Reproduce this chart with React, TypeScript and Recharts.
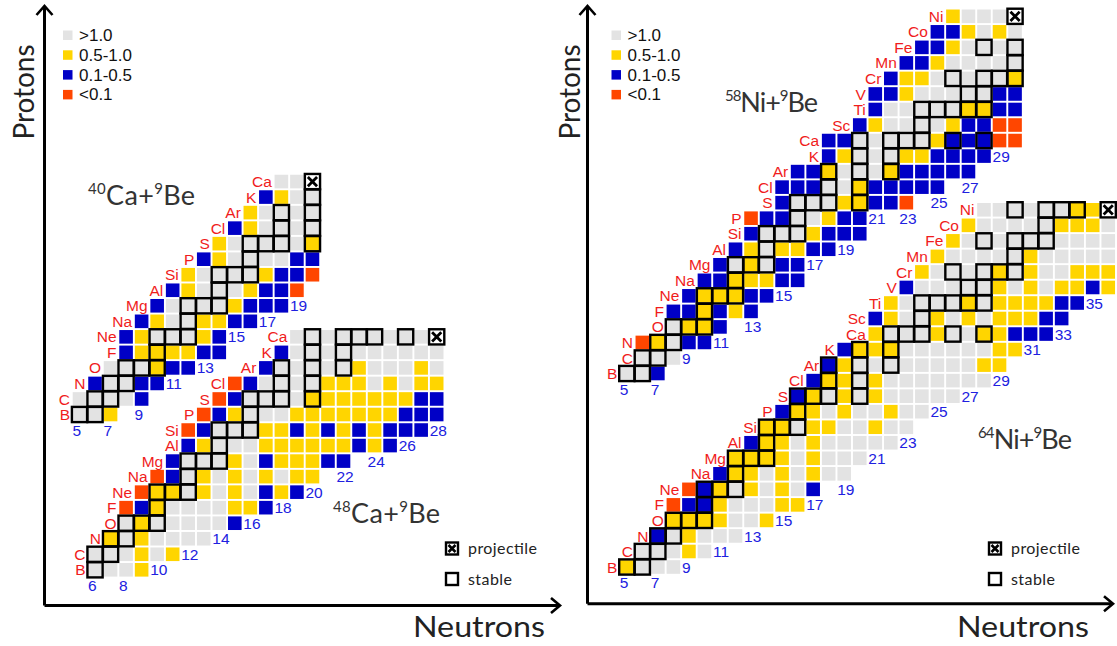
import React from "react";
import { ScatterChart, Scatter, XAxis, YAxis } from "recharts";

type Row = [number, number, string]; // [Z, first N, one colour code per cell]

// g: >1.0, y: 0.5-1.0, b: 0.1-0.5, r: <0.1, x: projectile
const colours: Record<string, string> = {
  g: "#e3e3e3",
  y: "#ffd500",
  b: "#0000c6",
  r: "#ff4600",
  x: "#ffffff",
};

const legendItems = [
  { code: "g", label: ">1.0" },
  { code: "y", label: "0.5-1.0" },
  { code: "b", label: "0.1-0.5" },
  { code: "r", label: "<0.1" },
];

const elementSymbols = [
  "", "H", "He", "Li", "Be", "B", "C", "N", "O", "F", "Ne", "Na", "Mg", "Al", "Si",
  "P", "S", "Cl", "Ar", "K", "Ca", "Sc", "Ti", "V", "Cr", "Mn", "Fe", "Co", "Ni",
];

// [N, Z] of the stable nuclides (thick frame)
const stableNuclides: [number, number][] = [
  [5, 5], [6, 5], [6, 6], [7, 6], [7, 7], [8, 7], [8, 8], [9, 8], [10, 8], [10, 9],
  [10, 10], [11, 10], [12, 10], [12, 11], [12, 12], [13, 12], [14, 12], [14, 13],
  [14, 14], [15, 14], [16, 14], [16, 15], [16, 16], [17, 16], [18, 16], [20, 16],
  [18, 17], [20, 17], [18, 18], [20, 18], [22, 18], [20, 19], [22, 19],
  [20, 20], [22, 20], [23, 20], [24, 20], [26, 20], [28, 20], [24, 21],
  [24, 22], [25, 22], [26, 22], [27, 22], [28, 22], [27, 23], [28, 23],
  [26, 24], [28, 24], [29, 24], [30, 24], [30, 25], [28, 26], [30, 26], [31, 26], [32, 26],
  [32, 27], [30, 28], [32, 28], [33, 28], [34, 28], [36, 28],
];

const ca40Rows: Row[] = [
  [20, 18, "ggx"],
  [19, 17, "bygg"],
  [18, 16, "ygggg"],
  [17, 15, "bygggg"],
  [16, 14, "ygggggy"],
  [15, 13, "byggggbb"],
  [14, 12, "yggggybbr"],
  [13, 11, "bygggybbr"],
  [12, 10, "bggggybbb"],
  [11, 9, "byggyybb"],
  [10, 8, "bygggyb"],
  [9, 8, "byyyybb"],
  [8, 7, "gggybb"],
  [7, 6, "bggbb"],
  [6, 5, "ggggb"],
  [5, 5, "ggy"],
];
const ca40NLabels = [5, 7, 9, 11, 13, 15, 17, 19];

const ca48Rows: Row[] = [
  [20, 19, "gggggggggx"],
  [19, 18, "bgggggggggg"],
  [18, 17, "bgggggygggyg"],
  [17, 15, "rbggggyyygygyy"],
  [16, 14, "rbggggyyyyyyybb"],
  [15, 13, "rbygggyyyyyyybbb"],
  [14, 12, "rbgggyybybybybbb"],
  [13, 12, "bygggyyyyyybyb"],
  [12, 11, "bgggygbyyybb"],
  [11, 10, "rbgygygygyy"],
  [10, 9, "ryygygygbyb"],
  [9, 8, "rbyggggyyb"],
  [8, 8, "gygggggb"],
  [7, 7, "ygygggg"],
  [6, 6, "gggygy"],
  [5, 6, "gggy"],
];
const ca48NLabels = [6, 8, 10, 12, 14, 16, 18, 20, 22, 24, 26, 28];

const ni58Rows: Row[] = [
  [28, 26, "ygggx"],
  [27, 25, "bbygyg"],
  [26, 24, "bbygggg"],
  [25, 23, "bbyggggg"],
  [24, 22, "byygggggy"],
  [23, 21, "bbygggggbb"],
  [22, 21, "bgggggyybb"],
  [21, 20, "byggggybbrr"],
  [20, 18, "bbgggggybbbrr"],
  [19, 18, "bygggyybbbb"],
  [18, 16, "bbygggybbbbb"],
  [17, 15, "bbbggybbbbb"],
  [16, 15, "bgggyybbr"],
  [15, 13, "rbbggybb"],
  [14, 13, "bgggybbb"],
  [13, 12, "bygyybb"],
  [12, 11, "bgygbb"],
  [11, 10, "bbyyybb"],
  [10, 9, "byyybb"],
  [9, 8, "bbybyb"],
  [8, 8, "gyyb"],
  [7, 6, "rygbb"],
  [6, 6, "ggg"],
  [5, 5, "ggb"],
];
const ni58NLabels = [5, 7, 9, 11, 13, 15, 17, 19, 21, 23, 25, 27, 29];

const ni64Rows: Row[] = [
  [28, 28, "ggggggyyx"],
  [27, 27, "ygggggyyyg"],
  [26, 26, "ygggggggggg"],
  [25, 25, "ygggggyggggg"],
  [24, 24, "yggggygyggyyy"],
  [23, 23, "bgggggygygyyby"],
  [22, 22, "yggggygyyyybb"],
  [21, 21, "byggygygyyybb"],
  [20, 21, "ygggyggyybbb"],
  [19, 19, "byyyggggggyy"],
  [18, 18, "byggggggggyy"],
  [17, 17, "byygyggggggg"],
  [16, 16, "bygygyggggg"],
  [15, 15, "byygyggygg"],
  [14, 14, "yygyyggygg"],
  [13, 13, "byygyggggg"],
  [12, 12, "yyyygyggg"],
  [11, 11, "byygygygg"],
  [10, 9, "rbygygygb"],
  [9, 8, "rbbygggyy"],
  [8, 8, "yyyyggy"],
  [7, 7, "bgyggg"],
  [6, 6, "gggyg"],
  [5, 5, "yggg"],
];
const ni64NLabels = [5, 7, 9, 11, 13, 15, 17, 19, 21, 23, 25, 27, 29, 31, 33, 35];

type Cell = { x: number; y: number; c: string; framed: boolean };
type Label = { x: number; y: number; t: string };

const isStable = (n: number, z: number) => stableNuclides.some(([sn, sz]) => sn === n && sz === z);

function buildChart(rows: Row[], nLabels: number[], zShift: number) {
  const cells: Cell[] = [];
  const elements: Label[] = [];
  const lowest: Record<number, number> = {};
  rows.forEach(([z, n0, codes]) => {
    elements.push({ x: n0, y: z - zShift, t: elementSymbols[z] });
    codes.split("").forEach((c, i) => {
      if (c === ".") return;
      const n = n0 + i;
      cells.push({ x: n, y: z - zShift, c, framed: c === "x" || isStable(n, z) });
      lowest[n] = Math.min(lowest[n] ?? 99, z);
    });
  });
  const numbers: Label[] = nLabels.map((n) => ({ x: n, y: lowest[n] - 1 - zShift, t: String(n) }));
  return { cells, elements, numbers };
}

const P = 15.53; // pixels per nucleus

const CellShape = (props: any) => {
  const { cx, cy, payload } = props;
  const h = 6.8;
  return <rect x={cx - h} y={cy - h} width={2 * h} height={2 * h} fill={colours[payload.c]} />;
};

const FrameShape = (props: any) => {
  const { cx, cy, payload } = props;
  const h = 7.6;
  const k = 4.6;
  return (
    <g>
      <rect x={cx - h} y={cy - h} width={2 * h} height={2 * h} fill="none" stroke="#000" strokeWidth={2.4} />
      {payload.c === "x" && (
        <path
          d={`M${cx - k},${cy - k}L${cx + k},${cy + k}M${cx + k},${cy - k}L${cx - k},${cy + k}`}
          stroke="#000"
          strokeWidth={2.8}
        />
      )}
    </g>
  );
};

const labelFont = "'Liberation Sans', Arial, sans-serif";

const ElementShape = (props: any) => (
  <text x={props.cx - 9.5} y={props.cy} dy="0.36em" textAnchor="end" fontSize={15.5}
    fontFamily={labelFont} fill="#f01c1c">
    {props.payload.t}
  </text>
);

const NumberShape = (props: any) => (
  <text x={props.cx - 7} y={props.cy} dy="0.36em" textAnchor="start" fontSize={15.5}
    fontFamily={labelFont} fill="#2020e0">
    {props.payload.t}
  </text>
);

function Panel({ parts, width, margin, xDomain, yDomain }: any) {
  const cells = parts.flatMap((p: any) => p.cells);
  const frames = cells.filter((c: Cell) => c.framed);
  const elements = parts.flatMap((p: any) => p.elements);
  const numbers = parts.flatMap((p: any) => p.numbers);
  return (
    <ScatterChart width={width} height={646} margin={margin}>
      <XAxis type="number" dataKey="x" domain={xDomain} hide allowDataOverflow />
      <YAxis type="number" dataKey="y" domain={yDomain} hide allowDataOverflow />
      <Scatter data={cells} shape={CellShape} isAnimationActive={false} />
      <Scatter data={frames} shape={FrameShape} isAnimationActive={false} />
      <Scatter data={elements} shape={ElementShape} isAnimationActive={false} />
      <Scatter data={numbers} shape={NumberShape} isAnimationActive={false} />
    </ScatterChart>
  );
}

const thinFont = "Lato, 'Open Sans', 'DejaVu Sans', sans-serif";

function Title({ x, y, mass, el, len }: { x: number; y: number; mass: string; el: string; len: number }) {
  return (
    <text x={x} y={y} fontFamily={thinFont} fill="#333" fontSize={27}
      textLength={len} lengthAdjust="spacing">
      <tspan fontSize={15} dy={-11}>{mass}</tspan>
      <tspan dy={11}>{el}+</tspan>
      <tspan fontSize={15} dy={-11}>9</tspan>
      <tspan dy={11}>Be</tspan>
    </text>
  );
}

function Decorations() {
  const axes = [
    { ax: 44.5, ay: 605.5, right: 560, top: 6, legendX: 63, keyX: 445, protonX: 34, neutronX: 479 },
    { ax: 587.5, ay: 603.7, right: 1113, top: 6, legendX: 611.5, keyX: 988, protonX: 580, neutronX: 1023 },
  ];
  return (
    <svg width={1117} height={646} style={{ position: "absolute", left: 0, top: 0, pointerEvents: "none" }}>
      {axes.map((a, i) => (
        <g key={i}>
          <path d={`M${a.ax},${a.ay}V${a.top + 1}M${a.ax},${a.ay}H${a.right - 1}`} stroke="#000" strokeWidth={3} fill="none" />
          <path d={`M${a.ax - 8},${a.top + 9}L${a.ax},${a.top}L${a.ax + 8},${a.top + 9}`} stroke="#000" strokeWidth={2.6} fill="none" />
          <path d={`M${a.right - 9},${a.ay - 7.5}L${a.right},${a.ay}L${a.right - 9},${a.ay + 7.5}`} stroke="#000" strokeWidth={2.6} fill="none" />
          {legendItems.map((it, j) => (
            <g key={it.code}>
              <rect x={a.legendX} y={30.5 + j * 19.8} width={9.5} height={9.5} fill={colours[it.code]} />
              <text x={a.legendX + 16} y={41 + j * 19.8} fontSize={17} fontFamily={labelFont} fill="#111">
                {it.label}
              </text>
            </g>
          ))}
          <rect x={a.keyX + 1} y={542.5} width={12} height={12} fill="#fff" stroke="#000" strokeWidth={2.4} />
          <path d={`M${a.keyX + 3.5},${545}L${a.keyX + 10.5},${552}M${a.keyX + 10.5},${545}L${a.keyX + 3.5},${552}`} stroke="#000" strokeWidth={2.6} />
          <text x={a.keyX + 23} y={553.5} fontSize={16} fontFamily={thinFont} fill="#222"
            textLength={69} lengthAdjust="spacing">projectile</text>
          <rect x={a.keyX + 1} y={573} width={12} height={12} fill="#fff" stroke="#000" strokeWidth={2.4} />
          <text x={a.keyX + 23} y={584.5} fontSize={16} fontFamily={thinFont} fill="#222"
            textLength={44} lengthAdjust="spacing">stable</text>
          <text x={a.protonX} y={92} transform={`rotate(-90 ${a.protonX} 92)`} textAnchor="middle" fontSize={29}
            fontFamily={thinFont} fill="#222" textLength={95} lengthAdjust="spacingAndGlyphs">
            Protons
          </text>
          <text x={a.neutronX} y={637} textAnchor="middle" fontSize={29} fontFamily={thinFont}
            fill="#222" textLength={132} lengthAdjust="spacingAndGlyphs">
            Neutrons
          </text>
        </g>
      ))}
      <Title x={88} y={205} mass="40" el="Ca" len={107} />
      <Title x={333} y={523} mass="48" el="Ca" len={107} />
      <Title x={725} y={112} mass="58" el="Ni" len={93} />
      <Title x={978} y={449} mass="64" el="Ni" len={94} />
    </svg>
  );
}

export default function App() {
  const left = [buildChart(ca40Rows, ca40NLabels, 0), buildChart(ca48Rows, ca48NLabels, 10)];
  const right = [buildChart(ni58Rows, ni58NLabels, 0), buildChart(ni64Rows, ni64NLabels, (567 - 373.5) / P)];
  return (
    <div style={{ position: "absolute", left: 0, top: 0, width: 1117, height: 646, background: "#fff" }}>
      <div style={{ position: "absolute", left: 0, top: 0 }}>
        <Panel
          parts={left}
          width={560}
          margin={{ top: 5, right: 5, bottom: 40, left: 42 }}
          xDomain={[5 - (79.5 - 42) / P, 5 + (555 - 79.5) / P]}
          yDomain={[5 - (606 - 414.5) / P, 5 + (414.5 - 5) / P]}
        />
      </div>
      <div style={{ position: "absolute", left: 560, top: 0 }}>
        <Panel
          parts={right}
          width={557}
          margin={{ top: 5, right: 0, bottom: 40, left: 28 }}
          xDomain={[5 - (626.8 - 588) / P, 5 + (1117 - 626.8) / P]}
          yDomain={[5 - (606 - 373.5) / P, 5 + (373.5 - 5) / P]}
        />
      </div>
      <Decorations />
    </div>
  );
}
